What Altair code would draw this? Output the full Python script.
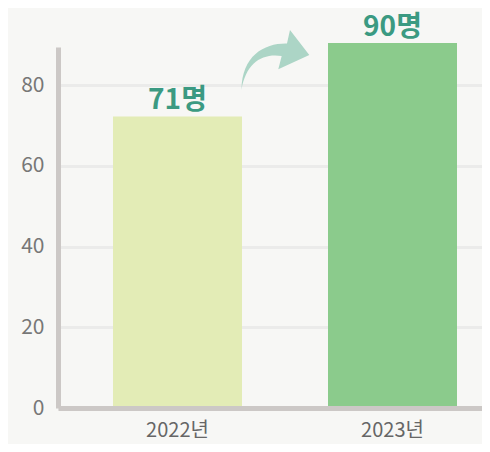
import altair as alt
import pandas as pd

years = ["2022년", "2023년"]
bar_values = [72.3, 90.5]
value_labels = ["71명", "90명"]
bar_colors = ["#e3ecb6", "#8bcb8c"]
y_ticks = [0, 20, 40, 60, 80]

df = pd.DataFrame({"year": years, "value": bar_values, "label": value_labels, "color": bar_colors})

FONT = "Noto Sans CJK KR"

x_enc = alt.X(
    "year:N",
    sort=years,
    scale=alt.Scale(paddingInner=0.4, paddingOuter=0.186, align=0.6875),
    axis=alt.Axis(
        title=None, labelAngle=0, ticks=False, labelPadding=12,
        labelFontSize=20, labelColor="#666666", labelFont=FONT,
        domainColor="#ccc8c6", domainWidth=5, zindex=1,
    ),
)
y_scale = alt.Scale(domain=[0, 89.5], nice=False)

bars = alt.Chart(df).mark_bar().encode(
    x=x_enc,
    y=alt.Y(
        "value:Q",
        scale=y_scale,
        axis=alt.Axis(
            title=None, values=y_ticks, ticks=False, labelPadding=14,
            labelFontSize=21, labelColor="#777777", labelFont=FONT,
            domainColor="#ccc8c6", domainWidth=5,
            gridColor="#ebebea", gridWidth=3,
        ),
    ),
    color=alt.Color("color:N", scale=None),
)

labels = alt.Chart(df).mark_text(
    font=FONT, fontSize=28, fontWeight="bold", color="#3b9a82",
    baseline="alphabetic", dy=-7,
).encode(
    x=alt.X("year:N", sort=years),
    y=alt.Y("value:Q", scale=y_scale),
    text="label:N",
)

arrow_path = (
    "M-1,0.88 C-0.99,-0.147 -0.309,-0.5 0.338,-0.485 "
    "L0.426,-0.882 L0.994,-0.147 L0.082,0.274 L0.182,-0.118 "
    "C-0.398,-0.206 -0.868,0.088 -1,0.88 Z"
)
arrow = alt.Chart(alt.Data(values=[{}])).mark_point(
    shape=arrow_path, filled=True, color="#acd5c6", opacity=1, strokeWidth=0, size=4624,
).encode(x=alt.value(217.5), y=alt.value(13))

chart = alt.layer(bars, labels, arrow).properties(
    width=424, height=361,
    autosize=alt.AutoSizeParams(type="none"),
    padding={"left": 50, "top": 39, "right": 0, "bottom": 36},
    background="#f7f7f5",
).configure_view(stroke=None)

chart.save("out.html", embed_options={"renderer": "svg", "actions": False})
